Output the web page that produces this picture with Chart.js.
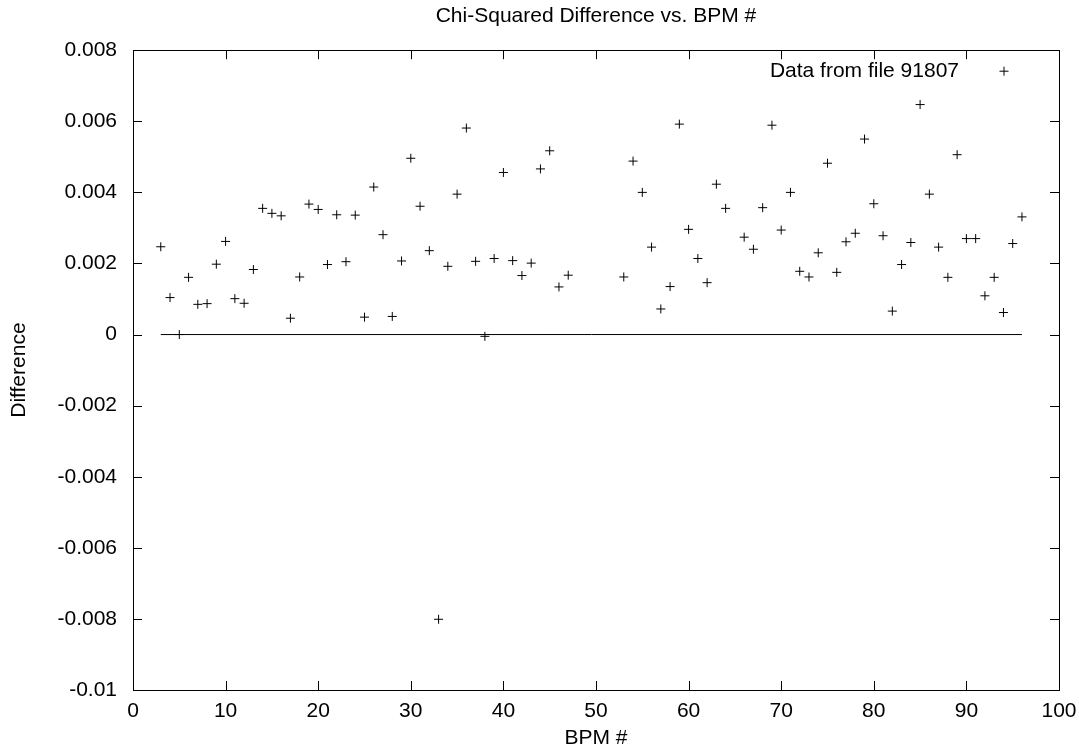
<!DOCTYPE html>
<html>
<head>
<meta charset="utf-8">
<script src="https://cdn.jsdelivr.net/npm/chart.js@4.4.0/dist/chart.umd.min.js"></script>
<style>
  html, body { margin: 0; padding: 0; background: #fff; }
  #wrap { width: 1079px; height: 751px; position: relative; }
</style>
</head>
<body>
<div id="wrap"><canvas id="chart"></canvas></div>
<script>
// BPM numbers and chi-squared difference
const bpm = [3, 4, 5, 6, 7, 8, 9, 10, 11, 12, 13, 14, 15, 16, 17, 18, 19, 20,
  21, 22, 23, 24, 25, 26, 27, 28, 29, 30, 31, 32, 33, 34, 35, 36, 37, 38, 39, 40,
  41, 42, 43, 44, 45, 46, 47, 53, 54, 55, 56, 57, 58, 59, 60,
  61, 62, 63, 64, 66, 67, 68, 69, 70, 71, 72, 73, 74, 75, 76, 77, 78, 79, 80,
  81, 82, 83, 84, 85, 86, 87, 88, 89, 90, 91, 92, 93, 94, 95, 96];
const diff = [0.00247, 0.00104, 0.00000, 0.00161, 0.00085, 0.00087, 0.00198, 0.00262, 0.00101, 0.00088,
  0.00183, 0.00355, 0.00341, 0.00334, 0.00046, 0.00162, 0.00367, 0.00352,
  0.00197, 0.00337, 0.00205, 0.00336, 0.00049, 0.00415, 0.00281, 0.00051, 0.00207, 0.00496,
  0.00361, 0.00236, -0.00801, 0.00192, 0.00395, 0.00581, 0.00206, -0.00005, 0.00214, 0.00456,
  0.00208, 0.00166, 0.00201, 0.00466, 0.00517, 0.00134, 0.00167,
  0.00162, 0.00488, 0.00400, 0.00246, 0.00072, 0.00135, 0.00592, 0.00296,
  0.00214, 0.00146, 0.00423, 0.00355, 0.00274, 0.00240, 0.00357, 0.00589, 0.00294,
  0.00400, 0.00178, 0.00162, 0.00230, 0.00482, 0.00175, 0.00261, 0.00285, 0.00550, 0.00368,
  0.00278, 0.00066, 0.00197, 0.00259, 0.00647, 0.00395, 0.00246, 0.00161, 0.00506, 0.00270,
  0.00270, 0.00109, 0.00161, 0.00062, 0.00256, 0.00331];

// zero reference line spans the data range
const zeroX = [3, 96];
const zeroY = [0, 0];

const seriesLabel = 'Data from file 91807';
const titleText = 'Chi-Squared Difference vs. BPM #';
const xTitle = 'BPM #';
const yTitle = 'Difference';

const FONT = 'Liberation Sans, Arial, Helvetica, sans-serif';
const FS = 21;

// gnuplot style frame with inward ticks on all four sides, plus the key
const framePlugin = {
  id: 'frame',
  afterDatasetsDraw(chart) {
    const { ctx, chartArea: a, scales } = chart;
    const len = 9;
    ctx.save();
    ctx.strokeStyle = '#000';
    ctx.lineWidth = 1;
    ctx.beginPath();
    scales.x.ticks.forEach(t => {
      const px = Math.round(scales.x.getPixelForValue(t.value)) + 0.5;
      ctx.moveTo(px, a.bottom); ctx.lineTo(px, a.bottom - len);
      ctx.moveTo(px, a.top); ctx.lineTo(px, a.top + len);
    });
    scales.y.ticks.forEach(t => {
      const py = Math.round(scales.y.getPixelForValue(t.value)) + 0.5;
      ctx.moveTo(a.left, py); ctx.lineTo(a.left + len, py);
      ctx.moveTo(a.right, py); ctx.lineTo(a.right - len, py);
    });
    ctx.stroke();
    ctx.strokeRect(Math.round(a.left) + 0.5, Math.round(a.top) + 0.5,
      Math.round(a.right - a.left), Math.round(a.bottom - a.top));

    // key in upper right
    const ky = a.top + 21;
    const kx = a.right - 55;
    ctx.fillStyle = '#000';
    ctx.font = FS + 'px ' + FONT;
    ctx.textAlign = 'right';
    ctx.textBaseline = 'middle';
    ctx.fillText(chart.data.datasets[0].label, kx - 45, ky);
    ctx.beginPath();
    ctx.moveTo(kx - 4.5, ky); ctx.lineTo(kx + 4.5, ky);
    ctx.moveTo(kx, ky - 4.5); ctx.lineTo(kx, ky + 4.5);
    ctx.stroke();
    ctx.restore();
  }
};

new Chart(document.getElementById('chart'), {
  type: 'scatter',
  data: {
    datasets: [
      {
        label: seriesLabel,
        data: bpm.map((b, i) => ({ x: b, y: diff[i] })),
        pointStyle: 'cross',
        pointRadius: 4.5,
        pointBorderWidth: 1,
        borderColor: '#000',
        backgroundColor: '#000',
        showLine: false
      },
      {
        label: 'zero',
        data: zeroX.map((b, i) => ({ x: b, y: zeroY[i] })),
        showLine: true,
        pointRadius: 0,
        borderColor: '#000',
        borderWidth: 1
      }
    ]
  },
  options: {
    responsive: true,
    maintainAspectRatio: false,
    animation: false,
    layout: { padding: { left: 0, right: 20, top: 0, bottom: 0 } },
    plugins: {
      legend: { display: false },
      tooltip: { enabled: false },
      title: {
        display: true,
        text: titleText,
        fullSize: false,
        color: '#000',
        font: { family: FONT, size: FS, weight: 'normal' },
        padding: { top: 4, bottom: 21 }
      }
    },
    scales: {
      x: {
        type: 'linear',
        min: 0,
        max: 100,
        ticks: { stepSize: 10, color: '#000', padding: 9, font: { family: FONT, size: FS } },
        grid: { display: false, drawTicks: false },
        border: { display: false },
        title: {
          display: true, text: xTitle, color: '#000',
          font: { family: FONT, size: FS }, padding: { top: 4, bottom: 0 }
        },
        afterFit(scale) {
          scale.height = 61;
          scale.paddingLeft = 0;
          scale.paddingRight = 0;
        }
      },
      y: {
        min: -0.01,
        max: 0.008,
        ticks: {
          stepSize: 0.002, color: '#000', padding: 16,
          font: { family: FONT, size: FS },
          callback: v => String(Number(v.toFixed(3)))
        },
        grid: { display: false, drawTicks: false },
        border: { display: false },
        title: {
          display: true, text: yTitle, color: '#000',
          font: { family: FONT, size: FS }, padding: { top: 7, bottom: 4 }
        },
        afterFit(scale) { scale.width = 133; }
      }
    }
  },
  plugins: [framePlugin]
});
</script>
</body>
</html>
